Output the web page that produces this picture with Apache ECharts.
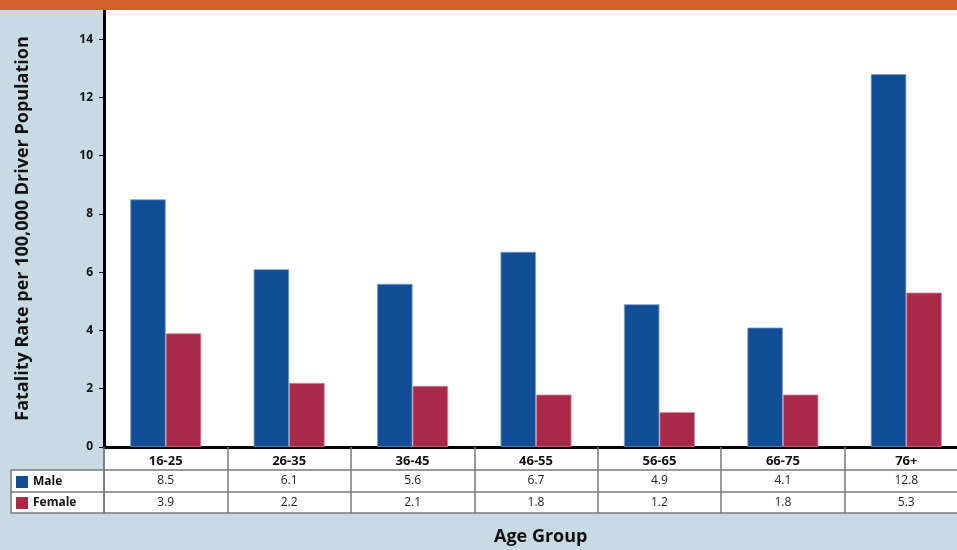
<!DOCTYPE html>
<html>
<head>
<meta charset="utf-8">
<script src="https://cdn.jsdelivr.net/npm/echarts@6/dist/echarts.min.js"></script>
<style>
  html, body { margin: 0; padding: 0; background: #c8dbe5; overflow: hidden; }
  /* the plot runs a little past the right edge of the picture, so the canvas is wider than the window */
  #chart { width: 968px; height: 550px; }
</style>
</head>
<body>
<div id="chart"></div>
<script>
const ageGroups = ['16-25', '26-35', '36-45', '46-55', '56-65', '66-75', '76+'];
const maleRates = [8.5, 6.1, 5.6, 6.7, 4.9, 4.1, 12.8];
const femaleRates = [3.9, 2.2, 2.1, 1.8, 1.2, 1.8, 5.3];
const yTicks = [0, 2, 4, 6, 8, 10, 12, 14];

const FONT = '"Open Sans", "Noto Sans", sans-serif';
const MALE = '#124e96';
const FEMALE = '#a82a48';
const TABLE_LINE = '#7a7a7a';

const chart = echarts.init(document.getElementById('chart'), null, { renderer: 'canvas' });

function valueAxis(values, offset) {
  return {
    type: 'category',
    position: 'bottom',
    offset: offset,
    data: values.map((v) => v.toFixed(1)),
    axisLine: { show: true, lineStyle: { color: TABLE_LINE, width: 1.5 } },
    axisTick: { show: false },
    axisLabel: { color: '#222', fontFamily: FONT, fontSize: 12, margin: 5 }
  };
}

chart.setOption({
  backgroundColor: '#c8dbe5',
  animation: false,
  textStyle: { fontFamily: FONT },
  grid: {
    left: 104, right: 0, top: 10, bottom: 103,
    show: true, backgroundColor: '#ffffff', borderWidth: 0
  },
  legend: {
    orient: 'vertical',
    left: 11, top: 471, padding: [5, 5, 5, 5],
    itemWidth: 12, itemHeight: 12, itemGap: 9,
    icon: 'rect',
    selectedMode: false,
    itemStyle: { borderWidth: 0 },
    data: ['Male', 'Female'],
    textStyle: { color: '#111', fontWeight: 'bold', fontSize: 12, fontFamily: FONT, lineHeight: 12 }
  },
  xAxis: [
    {
      type: 'category',
      position: 'bottom',
      data: ageGroups,
      axisLine: { show: true, lineStyle: { color: '#000', width: 3 } },
      axisTick: { show: true, inside: false, length: 66, lineStyle: { color: TABLE_LINE, width: 1.5 } },
      axisLabel: { color: '#111', fontWeight: 'bold', fontSize: 13, fontFamily: FONT, margin: 8 }
    },
    valueAxis(maleRates, 23),
    valueAxis(femaleRates, 45)
  ],
  yAxis: {
    type: 'value',
    min: 0, max: 15,
    name: 'Fatality Rate per 100,000 Driver Population',
    nameLocation: 'middle',
    nameGap: 72,
    nameTextStyle: { color: '#111', fontWeight: 'bold', fontSize: 18, fontFamily: FONT },
    axisLine: { show: true, lineStyle: { color: '#000', width: 3 } },
    axisTick: { show: true, length: 5, customValues: yTicks, lineStyle: { color: '#000', width: 1 } },
    axisLabel: { customValues: yTicks, color: '#111', fontWeight: 'bold', fontSize: 12, fontFamily: FONT, margin: 11 },
    splitLine: { show: false }
  },
  series: [
    {
      name: 'Male', type: 'bar', data: maleRates,
      barWidth: 35.5, barGap: '0%',
      itemStyle: { color: MALE, borderColor: '#7d9fcc', borderWidth: 0.8 }
    },
    {
      name: 'Female', type: 'bar', data: femaleRates,
      barWidth: 35.5, barGap: '0%',
      itemStyle: { color: FEMALE, borderColor: '#d48a9c', borderWidth: 0.8 }
    }
  ],
  graphic: [
    { type: 'rect', left: 0, top: 0, shape: { width: 968, height: 10 }, style: { fill: '#d35f2a' }, z: 10 },
    {
      type: 'rect', z: -1, silent: true,
      shape: { x: 104, y: 447, width: 864, height: 66 },
      style: { fill: '#ffffff', stroke: TABLE_LINE, lineWidth: 1.5 }
    },
    {
      type: 'rect', z: -1, silent: true,
      shape: { x: 11, y: 470, width: 93, height: 43 },
      style: { fill: '#ffffff', stroke: TABLE_LINE, lineWidth: 1.5 }
    },
    {
      type: 'line', z: -1, silent: true,
      shape: { x1: 11, y1: 492, x2: 104, y2: 492 },
      style: { stroke: TABLE_LINE, lineWidth: 1.5 }
    },
    {
      type: 'text', left: 494, top: 528,
      style: { text: 'Age Group', fill: '#111', font: 'bold 18px ' + FONT }
    }
  ]
});
</script>
</body>
</html>
